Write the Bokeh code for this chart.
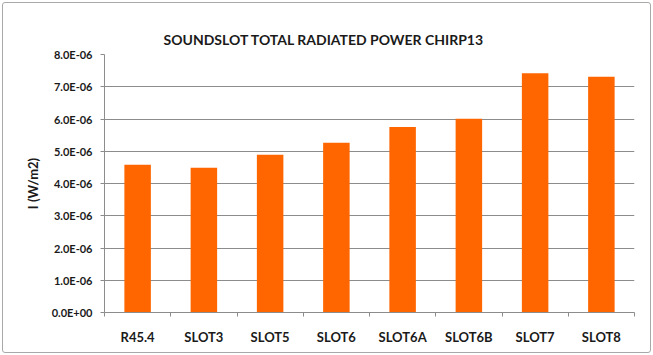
from bokeh.plotting import figure
from bokeh.models import (Range1d, LinearAxis, FixedTicker,
                          CustomJSTickFormatter, ColumnDataSource, Title)
from bokeh.embed import file_html
from bokeh.resources import INLINE

categories = ["R45.4", "SLOT3", "SLOT5", "SLOT6", "SLOT6A", "SLOT6B", "SLOT7", "SLOT8"]
intensity = [4.58e-6, 4.49e-6, 4.89e-6, 5.26e-6, 5.75e-6, 6.01e-6, 7.42e-6, 7.31e-6]
y_ticks = [0.0, 1e-6, 2e-6, 3e-6, 4e-6, 5e-6, 6e-6, 7e-6, 8e-6]
title_text = "SOUNDSLOT TOTAL RADIATED POWER CHIRP13"
y_label = "I (W/m2)"

FONT = "Lato"
GRID = "#8c8c8c"
TXT = "#1a1a1a"

n = len(categories)
centers = [i + 0.5 for i in range(n)]
src = ColumnDataSource(dict(x=centers, cat=categories, val=intensity))

p = figure(width=653, height=355, output_backend="svg", toolbar_location=None,
           x_range=Range1d(0, n), y_range=Range1d(0, 8e-6),
           x_axis_location=None, y_axis_location=None,
           min_border_left=104, min_border_right=19, min_border_top=54, min_border_bottom=43,
           styles={"outline": "1px solid #a8a8a8", "outline-offset": "-3px",
                   "border-radius": "5px", "background-color": "white"})
p.outline_line_color = None
p.background_fill_color = None
p.border_fill_color = None

p.vbar(x="x", top="val", width=0.4, source=src, fill_color="#FF6600", line_color=None)

# Title
t = Title(text=title_text, align="left", offset=59, text_font=FONT, text_font_style="bold",
          text_font_size="14px", text_color=TXT, standoff=14)
p.add_layout(t, "above")

# Y axis
yax = LinearAxis(ticker=FixedTicker(ticks=y_ticks))
yax.formatter = CustomJSTickFormatter(code="""
if (Math.abs(tick) < 1e-15) return "0.0E+00";
const s = tick.toExponential(1).toUpperCase();
const parts = s.split("E");
let e = parseInt(parts[1]);
const sign = e < 0 ? "-" : "+";
e = Math.abs(e);
return parts[0] + "E" + sign + (e < 10 ? "0" : "") + e;
""")
yax.axis_line_color = GRID
yax.major_tick_line_color = GRID
yax.major_tick_in = 0
yax.major_tick_out = 4
yax.minor_tick_line_color = None
yax.major_label_standoff = 8
yax.major_label_text_font = FONT
yax.major_label_text_font_style = "bold"
yax.major_label_text_font_size = "11px"
yax.major_label_text_color = TXT
yax.axis_label = y_label
yax.axis_label_text_font = FONT
yax.axis_label_text_font_style = "bold"
yax.axis_label_text_font_size = "13px"
yax.axis_label_text_color = TXT
yax.axis_label_standoff = 8
p.add_layout(yax, "left")

# Boundary tick axis (ticks between categories)
bax = LinearAxis(ticker=FixedTicker(ticks=list(range(n + 1))))
bax.formatter = CustomJSTickFormatter(code="return '';")
bax.axis_line_color = GRID
bax.major_tick_line_color = GRID
bax.major_tick_in = 0
bax.major_tick_out = 4
bax.minor_tick_line_color = None
bax.major_label_standoff = 0
p.add_layout(bax, "below")

# Category label axis
cax = LinearAxis(ticker=FixedTicker(ticks=centers))
cax.major_label_overrides = {c: lab for c, lab in zip(centers, categories)}
cax.axis_line_color = None
cax.major_tick_line_color = None
cax.minor_tick_line_color = None
cax.major_label_standoff = 6
cax.major_label_text_font = FONT
cax.major_label_text_font_style = "bold"
cax.major_label_text_font_size = "13px"
cax.major_label_text_color = TXT
p.add_layout(cax, "below")

p.xgrid.visible = False
p.ygrid.ticker = FixedTicker(ticks=y_ticks)
p.ygrid.grid_line_color = GRID
p.ygrid.grid_line_width = 1

open("out.html", "w").write(file_html(p, INLINE))
